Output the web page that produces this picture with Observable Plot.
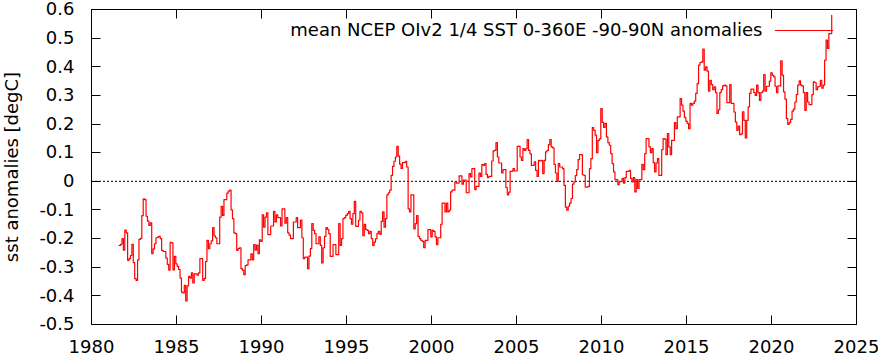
<!DOCTYPE html>
<html><head><meta charset="utf-8">
<script src="https://cdn.jsdelivr.net/npm/d3@7"></script>
<script src="https://cdn.jsdelivr.net/npm/@observablehq/plot@0.6"></script>
<style>html,body{margin:0;padding:0;background:#fff}#chart svg{display:block}</style>
</head><body><div id="chart"></div>
<script>
// Monthly series starts August 1981
const startYear = 1981;
const startMonth = 8;
const anomalies = [
  -0.224,-0.22,-0.20,-0.24,-0.17,-0.18,-0.276,-0.27,-0.259,-0.22,-0.284,-0.34,
  -0.346,-0.274,-0.203,-0.199,-0.12,-0.061,-0.064,-0.122,-0.139,-0.154,-0.145,-0.253,
  -0.236,-0.218,-0.197,-0.195,-0.192,-0.2,-0.241,-0.245,-0.245,-0.268,-0.29,-0.31,
  -0.213,-0.215,-0.309,-0.262,-0.288,-0.297,-0.308,-0.338,-0.387,-0.39,-0.363,-0.418,
  -0.365,-0.332,-0.338,-0.32,-0.355,-0.323,-0.323,-0.328,-0.32,-0.27,-0.27,-0.346,
  -0.34,-0.28,-0.206,-0.235,-0.218,-0.208,-0.162,-0.19,-0.197,-0.218,-0.218,-0.125,
  -0.087,-0.119,-0.064,-0.064,-0.041,-0.034,-0.031,-0.10,-0.13,-0.18,-0.183,-0.241,
  -0.235,-0.232,-0.305,-0.31,-0.326,-0.294,-0.292,-0.274,-0.274,-0.253,-0.274,-0.221,
  -0.24,-0.223,-0.253,-0.204,-0.21,-0.117,-0.16,-0.125,-0.11,-0.186,-0.186,-0.156,
  -0.156,-0.105,-0.142,-0.117,-0.127,-0.127,-0.156,-0.096,-0.096,-0.146,-0.127,-0.18,
  -0.188,-0.2,-0.2,-0.142,-0.142,-0.127,-0.162,-0.162,-0.135,-0.197,-0.27,-0.265,
  -0.265,-0.305,-0.261,-0.235,-0.148,-0.171,-0.183,-0.218,-0.218,-0.194,-0.224,-0.285,
  -0.232,-0.192,-0.162,-0.168,-0.183,-0.262,-0.262,-0.221,-0.221,-0.256,-0.256,-0.148,
  -0.224,-0.2,-0.13,-0.127,-0.119,-0.113,-0.105,-0.13,-0.15,-0.113,-0.07,-0.157,
  -0.157,-0.136,-0.105,-0.11,-0.19,-0.15,-0.168,-0.171,-0.183,-0.175,-0.2,-0.224,
  -0.212,-0.2,-0.183,-0.175,-0.185,-0.14,-0.107,-0.16,-0.13,-0.047,-0.04,-0.031,
  0.021,0.052,0.07,0.085,0.122,0.088,0.06,0.045,0.065,0.065,0.07,0.05,
  -0.096,-0.107,-0.047,-0.047,-0.166,-0.148,-0.12,-0.192,-0.2,-0.206,-0.21,-0.232,
  -0.206,-0.206,-0.169,-0.169,-0.194,-0.171,-0.175,-0.194,-0.221,-0.197,-0.197,-0.15,
  -0.076,-0.076,-0.107,-0.076,-0.107,-0.101,-0.037,-0.031,-0.031,-0.002,-0.006,-0.006,
  0.019,0.019,-0.01,0.004,0.004,-0.04,-0.04,0.027,0.015,0.044,0.044,-0.029,
  -0.018,-0.018,0.029,0.017,0.058,0.056,0.062,0.024,0.013,0.017,0.017,0.071,
  0.106,0.108,0.135,0.085,0.064,0.064,0.029,0.041,0.041,-0.022,-0.047,-0.038,
  0.035,0.035,0.044,0.036,0.036,0.122,0.123,0.085,0.073,0.114,0.108,0.114,
  0.146,0.108,0.096,0.056,0.056,0.068,0.038,0.017,0.073,0.071,0.073,0.027,
  0.073,0.103,0.108,0.128,0.146,0.12,0.117,0.059,0.029,0.0,0.062,0.05,
  0.05,0.044,-0.014,-0.09,-0.101,-0.087,-0.076,-0.06,-0.01,-0.002,0.02,0.041,
  0.076,0.093,0.093,0.023,0.021,-0.02,-0.02,-0.018,0.044,0.079,0.188,0.178,
  0.161,0.1,0.143,0.148,0.254,0.206,0.188,0.202,0.155,0.135,0.126,0.097,
  0.062,0.033,0.006,0.006,-0.012,-0.001,-0.001,0.01,-0.006,0.013,0.035,0.035,
  0.038,0.01,-0.002,0.013,-0.037,0.006,-0.025,0.006,0.006,0.059,0.041,0.097,
  0.149,0.149,0.12,0.1,0.114,0.065,0.033,0.064,0.079,0.021,0.021,0.111,
  0.149,0.147,0.093,0.167,0.12,0.093,0.143,0.143,0.205,0.184,0.225,0.225,
  0.289,0.266,0.245,0.223,0.21,0.202,0.184,0.272,0.266,0.272,0.28,0.307,
  0.341,0.406,0.415,0.417,0.462,0.388,0.4,0.385,0.315,0.353,0.338,0.32,
  0.33,0.31,0.237,0.25,0.31,0.32,0.333,0.336,0.333,0.275,0.275,0.338,
  0.272,0.272,0.242,0.207,0.178,0.193,0.163,0.166,0.243,0.213,0.152,0.213,
  0.26,0.307,0.322,0.322,0.31,0.3,0.336,0.31,0.283,0.31,0.315,0.373,
  0.315,0.332,0.332,0.35,0.379,0.37,0.365,0.332,0.31,0.333,0.333,0.421,
  0.371,0.312,0.287,0.219,0.199,0.205,0.216,0.245,0.252,0.277,0.303,0.336,
  0.351,0.336,0.333,0.31,0.248,0.31,0.277,0.268,0.268,0.303,0.347,0.345,
  0.32,0.33,0.332,0.353,0.325,0.336,0.423,0.493,0.464,0.516,0.516,0.58
];
const xTicks = [1980, 1985, 1990, 1995, 2000, 2005, 2010, 2015, 2020, 2025];
const yTicks = [-0.5, -0.4, -0.3, -0.2, -0.1, 0, 0.1, 0.2, 0.3, 0.4, 0.5, 0.6];
const legendLabel = "mean NCEP OIv2 1/4 SST 0-360E -90-90N anomalies";
const yLabel = "sst anomalies [degC]";

const series = anomalies.map((v, i) => ({t: startYear + (startMonth - 1 + i + 0.5) / 12, v}));

function innerTicks(index, scales, values, dim) {
  const L = dim.marginLeft + 0.5, R = dim.width - dim.marginRight + 0.5;
  const T = dim.marginTop + 0.5, B = dim.height - dim.marginBottom + 0.5;
  const g = d3.create("svg:g").attr("stroke", "black").attr("stroke-width", 1).attr("fill", "none");
  for (const t of xTicks) {
    const px = Math.round(scales.x(t)) + 0.5;
    g.append("line").attr("x1", px).attr("x2", px).attr("y1", B).attr("y2", B - 9);
    g.append("line").attr("x1", px).attr("x2", px).attr("y1", T).attr("y2", T + 9);
  }
  for (const t of yTicks) {
    const py = Math.round(scales.y(t)) + 0.5;
    g.append("line").attr("y1", py).attr("y2", py).attr("x1", L).attr("x2", L + 9);
    g.append("line").attr("y1", py).attr("y2", py).attr("x1", R).attr("x2", R - 9);
  }
  return g.node();
}

function legendSample(index, scales, values, dim) {
  const right = dim.width - dim.marginRight;
  const y = dim.marginTop + 21.5;
  return d3.create("svg:line")
    .attr("x1", right - 81).attr("x2", right - 23)
    .attr("y1", y).attr("y2", y)
    .attr("stroke", "#ff0000").attr("stroke-width", 1.2).node();
}

const chart = Plot.plot({
  width: 878,
  height: 354,
  marginLeft: 91,
  marginRight: 22,
  marginTop: 9,
  marginBottom: 30,
  style: {fontFamily: "'DejaVu Sans', sans-serif", fontSize: "18px", background: "#fff", color: "#000"},
  x: {domain: [1980, 2025]},
  y: {domain: [-0.5, 0.6]},
  marks: [
    Plot.ruleY([0], {stroke: "#000", strokeWidth: 1, strokeDasharray: "2,2"}),
    Plot.line(series, {x: "t", y: "v", curve: "step-after", stroke: "#ff0000", strokeWidth: 1.2}),
    Plot.frame({stroke: "#000", strokeWidth: 1}),
    innerTicks,
    Plot.axisX(xTicks, {tickSize: 0, tickPadding: 16, tickFormat: d => String(d), label: null, fontSize: 18}),
    Plot.axisY(yTicks, {tickSize: 0, tickPadding: 17, tickFormat: d => d === 0 ? "0" : d.toFixed(1), label: null, fontSize: 18}),
    Plot.text([yLabel], {frameAnchor: "left", dx: -79, rotate: -90, textAnchor: "middle", lineAnchor: "middle", fontSize: 18}),
    Plot.text([legendLabel], {frameAnchor: "top-right", dx: -94, dy: 21, textAnchor: "end", lineAnchor: "middle", fontSize: 18}),
    legendSample
  ]
});
document.getElementById("chart").appendChild(chart);
</script>
</body></html>
